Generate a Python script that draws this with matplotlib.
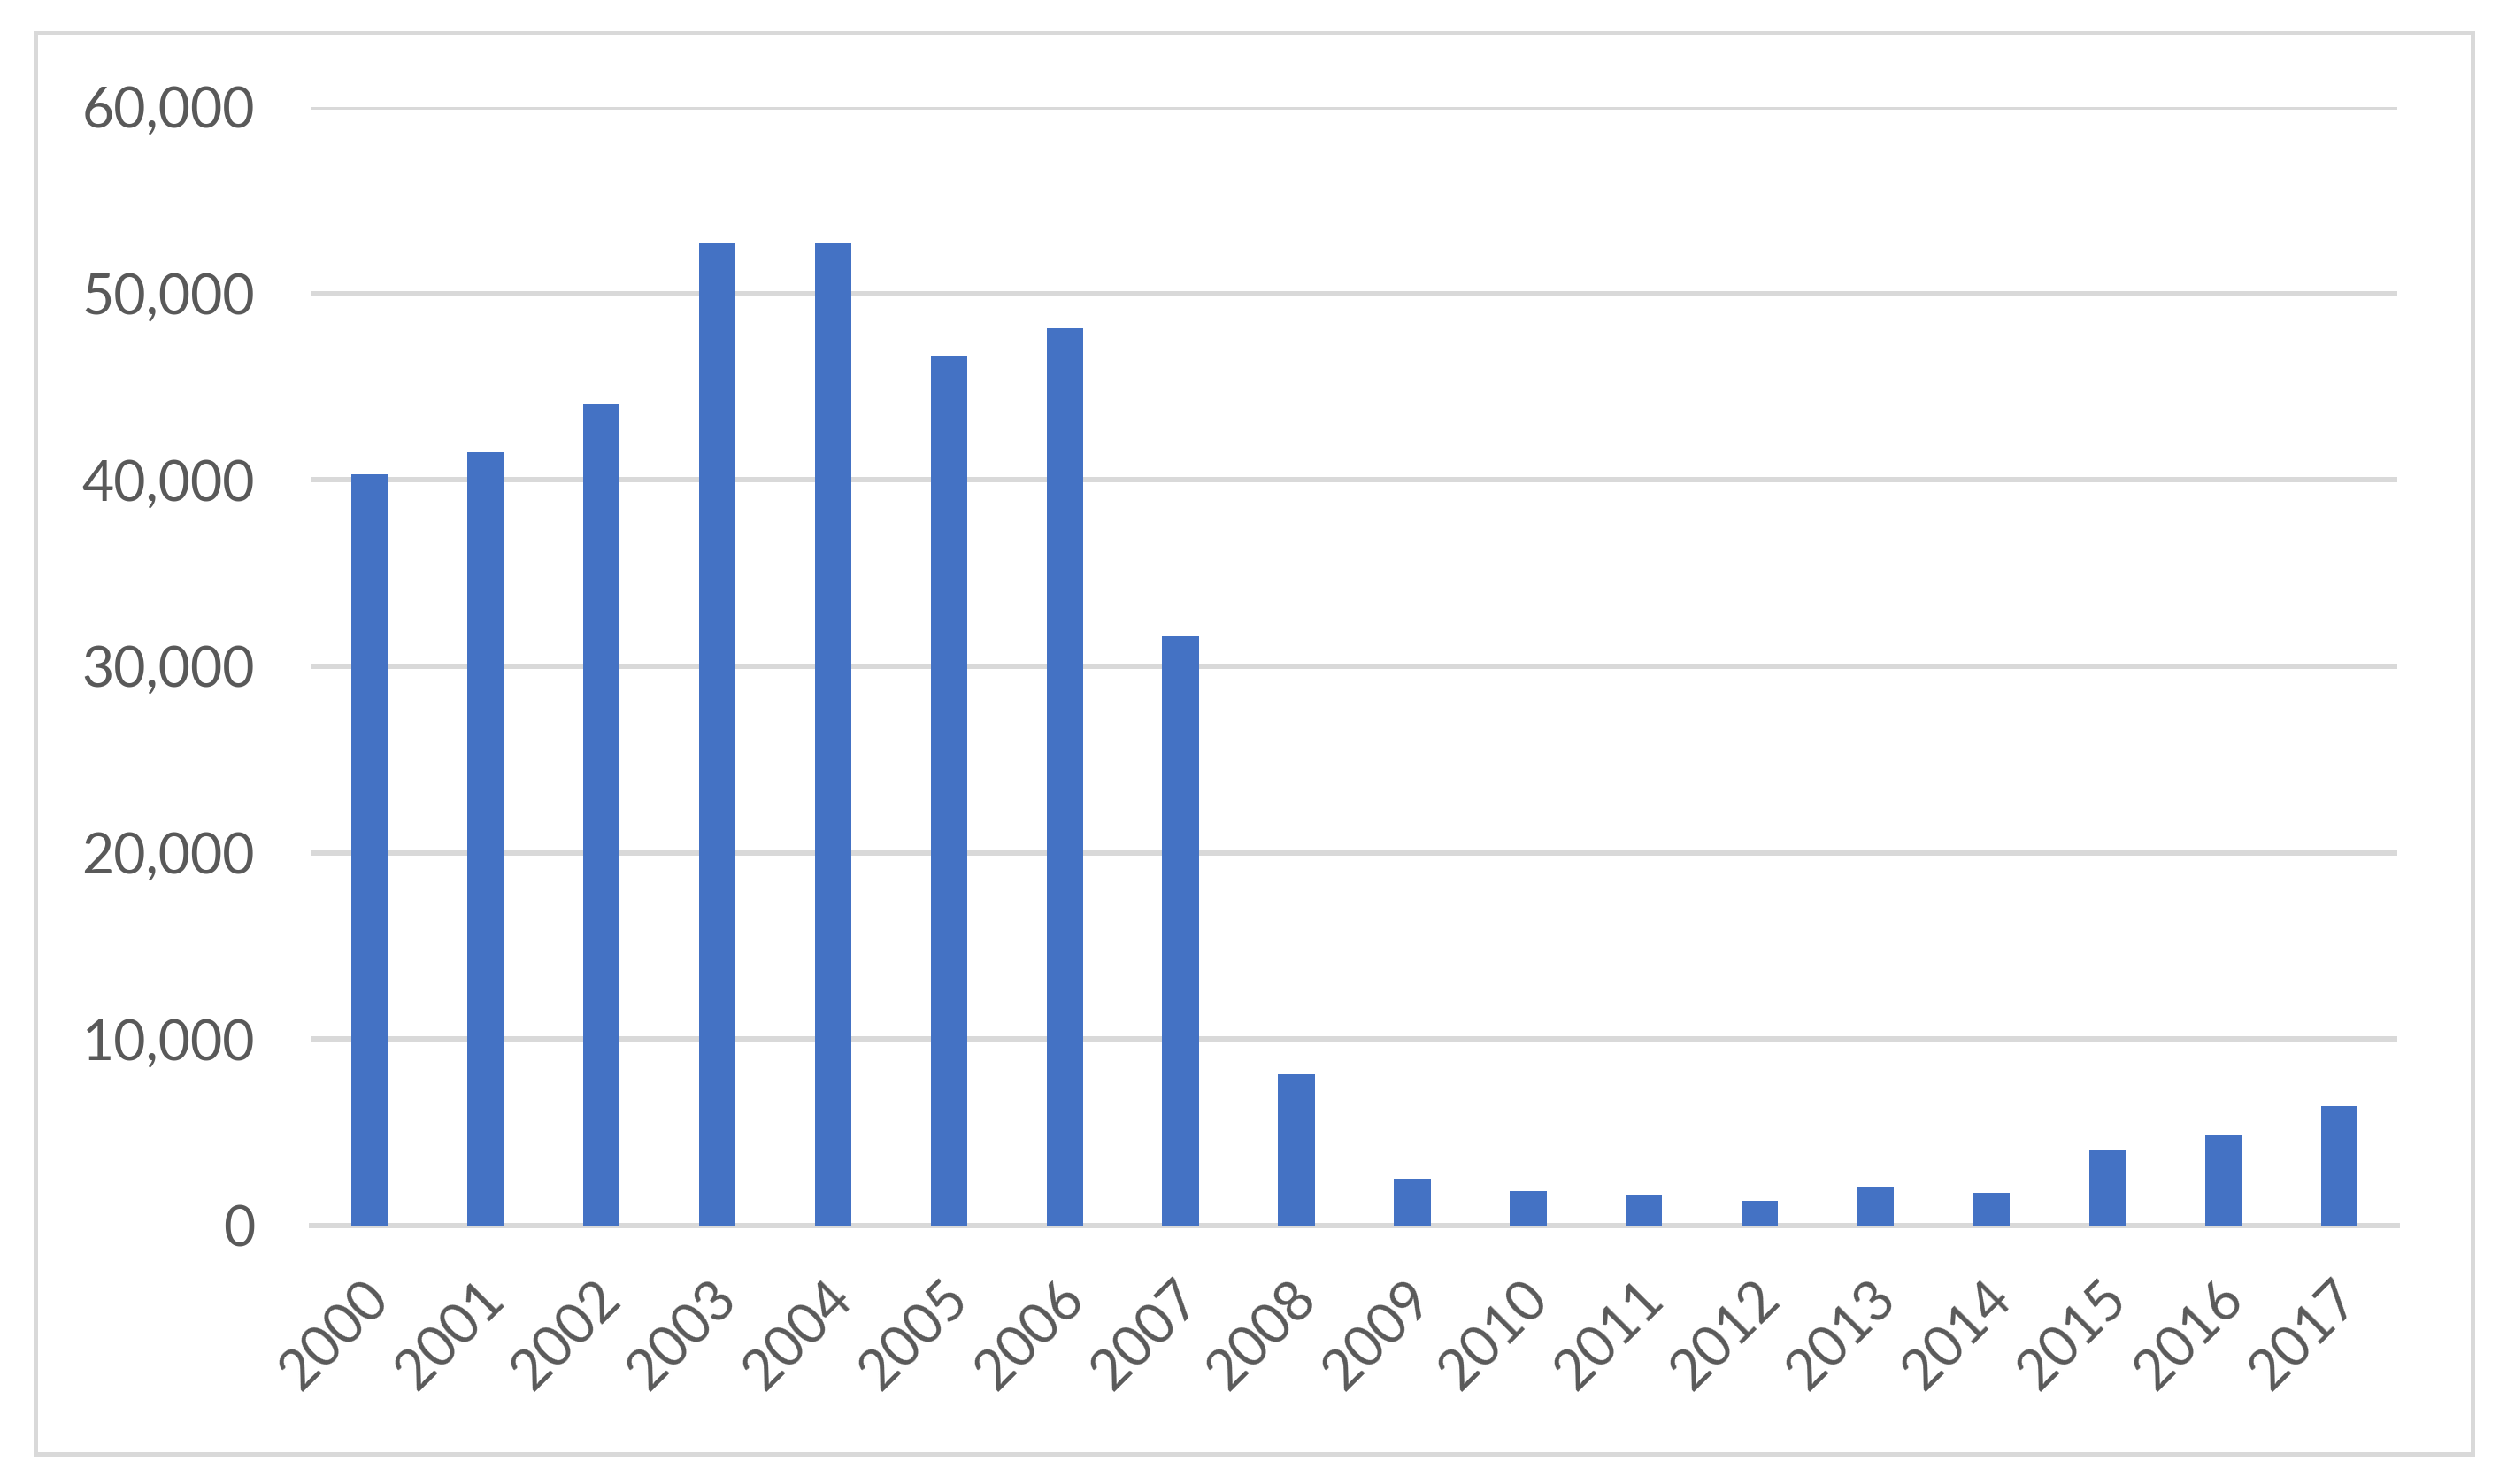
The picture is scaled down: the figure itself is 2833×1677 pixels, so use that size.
import matplotlib
matplotlib.use("Agg")
import matplotlib.pyplot as plt
from matplotlib.patches import Rectangle
from matplotlib.ticker import FuncFormatter
from matplotlib.transforms import ScaledTranslation

years = ["2000", "2001", "2002", "2003", "2004", "2005", "2006", "2007", "2008",
         "2009", "2010", "2011", "2012", "2013", "2014", "2015", "2016", "2017"]
values = [40310, 41510, 44110, 52690, 52710, 46650, 48150, 31620, 8100,
          2500, 1835, 1660, 1330, 2070, 1740, 4030, 4830, 6410]
y_ticks = [0, 10000, 20000, 30000, 40000, 50000, 60000]

W, H = 2833, 1677
DPI = 100
plt.rcParams['font.family'] = ['Lato', 'DejaVu Sans']

fig = plt.figure(figsize=(W / DPI, H / DPI), dpi=DPI)
fig.patch.set_facecolor('white')

# outer chart border
fig.patches.append(Rectangle((40 / W, 1 - 1643 / H), (2794 - 40) / W, (1643 - 37) / H,
                             transform=fig.transFigure, fill=False,
                             edgecolor='#D9D9D9', linewidth=3.6, zorder=0))

left, right = 352 / W, 2709 / W
bottom, top = 1 - 1385 / H, 1 - 121 / H
ax = fig.add_axes([left, bottom, right - left, top - bottom])

x = list(range(len(years)))
ax.bar(x, values, width=0.315, color='#4472C4', zorder=3)

ax.set_xlim(-0.5, len(years) - 0.5)
ax.set_ylim(0, 60000)
ax.set_yticks(y_ticks)
ax.yaxis.set_major_formatter(FuncFormatter(lambda v, p: f"{int(v):,}"))
ax.grid(axis='y', color='#D9D9D9', linewidth=4.3, zorder=0)
ax.set_axisbelow(True)

for s in ['top', 'right', 'left']:
    ax.spines[s].set_visible(False)
ax.spines['bottom'].set_color('#D9D9D9')
ax.spines['bottom'].set_linewidth(4.3)
ax.spines['bottom'].set_zorder(1)

ax.set_xticks(x)
ax.set_xticklabels(years)
ax.tick_params(axis='both', length=0, colors='#595959', labelsize=45)
ax.tick_params(axis='y', pad=46)
ax.tick_params(axis='x', pad=38)
shift = ScaledTranslation(-8 / DPI, 0, fig.dpi_scale_trans)
for lbl in ax.get_xticklabels():
    lbl.set_rotation(45)
    lbl.set_rotation_mode('anchor')
    lbl.set_ha('right')
    lbl.set_va('top')
    lbl.set_color('#595959')
    lbl.set_transform(lbl.get_transform() + shift)

fig.savefig("out.png", dpi=DPI, facecolor='white')
